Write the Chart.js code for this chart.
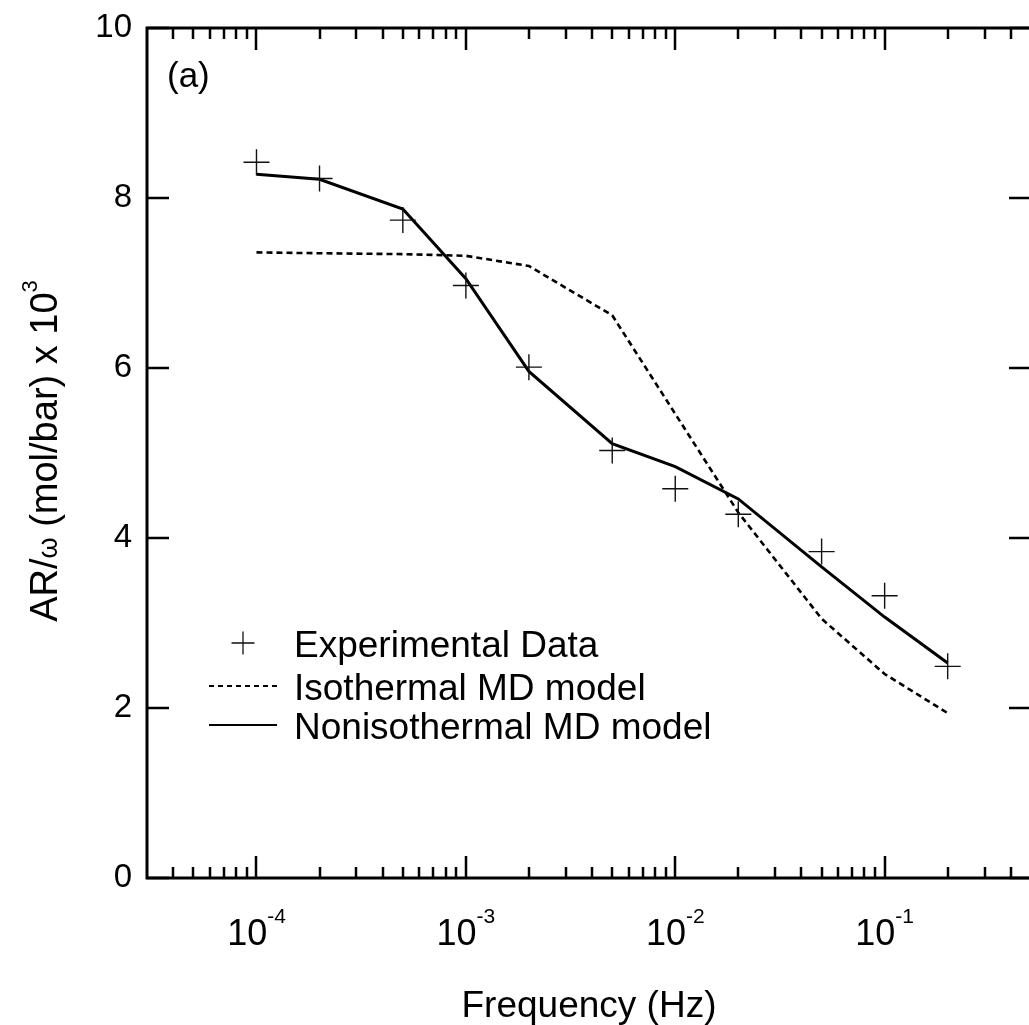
<!DOCTYPE html>
<html>
<head>
<meta charset="utf-8">
<script src="https://cdn.jsdelivr.net/npm/chart.js@4.4.1/dist/chart.umd.min.js"></script>
<style>
html,body{margin:0;padding:0;background:#fff;overflow:hidden;}
#wrap{width:1041px;height:1025px;}
</style>
</head>
<body>
<div id="wrap"><canvas id="c" width="1041" height="1025"></canvas></div>
<script>
// ---- data ----
const frequency = [1e-4, 2e-4, 5e-4, 1e-3, 2e-3, 5e-3, 1e-2, 2e-2, 5e-2, 1e-1, 2e-1];
const experimentalData = [8.42, 8.23, 7.74, 6.97, 6.01, 5.03, 4.58, 4.28, 3.84, 3.32, 2.49];
const isothermalModel = [7.36, 7.35, 7.34, 7.32, 7.20, 6.62, 5.46, 4.30, 3.05, 2.40, 1.94];
const nonisothermalModel = [8.28, 8.22, 7.87, 7.05, 5.96, 5.11, 4.84, 4.46, 3.66, 3.07, 2.53];
const seriesNames = ['Experimental Data', 'Isothermal MD model', 'Nonisothermal MD model'];
const xTickValues = [1e-4, 1e-3, 1e-2, 1e-1];
const xTickExponents = ['-4', '-3', '-2', '-1'];
const yTickValues = [0, 2, 4, 6, 8, 10];
const xRange = [3e-5, 0.5];
const yRange = [0, 10];
const xTitle = 'Frequency (Hz)';
const yTitleParts = ['AR/', 'ω', ' (mol/bar) x 10', '3'];
const panelLabel = '(a)';

const FONT = '"Liberation Sans", Arial, Helvetica, sans-serif';
const toXY = (ys) => frequency.map((f, i) => ({x: f, y: ys[i]}));

const decor = {
  id: 'decor',
  afterDraw(chart) {
    const ctx = chart.ctx;
    const a = chart.chartArea;
    const xs = chart.scales.x, ys = chart.scales.y;
    ctx.save();
    ctx.strokeStyle = '#000';
    ctx.fillStyle = '#000';
    ctx.lineCap = 'butt';
    // frame
    ctx.lineWidth = 3;
    ctx.strokeRect(a.left, a.top, a.right - a.left, a.bottom - a.top);
    // x ticks (major + minor), inward on top and bottom
    ctx.lineWidth = 2.5;
    const dMin = Math.floor(Math.log10(xRange[0])), dMax = Math.ceil(Math.log10(xRange[1]));
    for (let d = dMin; d <= dMax; d++) {
      for (let k = 1; k <= 9; k++) {
        const v = k * Math.pow(10, d);
        if (v <= xRange[0] * 1.0001 || v >= xRange[1] * 0.9999) continue;
        const px = Math.round(xs.getPixelForValue(v));
        const len = (k === 1) ? 22 : 11;
        ctx.beginPath();
        ctx.moveTo(px, a.bottom); ctx.lineTo(px, a.bottom - len);
        ctx.moveTo(px, a.top); ctx.lineTo(px, a.top + len);
        ctx.stroke();
      }
    }
    // y ticks inward on left and right
    yTickValues.forEach(v => {
      const py = Math.round(ys.getPixelForValue(v));
      ctx.beginPath();
      ctx.moveTo(a.left, py); ctx.lineTo(a.left + 22, py);
      ctx.moveTo(a.right, py); ctx.lineTo(a.right - 22, py);
      ctx.stroke();
    });
    // x tick labels 10^n
    ctx.textBaseline = 'alphabetic';
    ctx.textAlign = 'left';
    xTickValues.forEach((v, i) => {
      const px = xs.getPixelForValue(v);
      ctx.font = '36px ' + FONT;
      const wb = ctx.measureText('10').width;
      ctx.font = '21px ' + FONT;
      const we = ctx.measureText(xTickExponents[i]).width;
      const x0 = px - (wb + we) / 2;
      ctx.font = '36px ' + FONT;
      ctx.fillText('10', x0, 945);
      ctx.font = '21px ' + FONT;
      ctx.fillText(xTickExponents[i], x0 + wb, 923);
    });
    // x title
    ctx.font = '37px ' + FONT;
    ctx.textAlign = 'center';
    ctx.fillText(xTitle, (a.left + a.right) / 2, 1017);
    // y title (rotated)
    ctx.save();
    ctx.translate(57, 451);
    ctx.rotate(-Math.PI / 2);
    ctx.textAlign = 'left';
    const parts = [
      {t: yTitleParts[0], s: 38, dy: 0},
      {t: yTitleParts[1], s: 27, dy: 0},
      {t: yTitleParts[2], s: 38, dy: 0},
      {t: yTitleParts[3], s: 22, dy: -20}
    ];
    let total = 0;
    parts.forEach(p => { ctx.font = p.s + 'px ' + FONT; p.w = ctx.measureText(p.t).width; total += p.w; });
    let cx = -total / 2;
    parts.forEach(p => { ctx.font = p.s + 'px ' + FONT; ctx.fillText(p.t, cx, p.dy); cx += p.w; });
    ctx.restore();
    // panel label
    ctx.font = '35px ' + FONT;
    ctx.textAlign = 'left';
    ctx.fillText(panelLabel, 167, 87);
    // legend
    ctx.font = '37px ' + FONT;
    const lx = 294;
    const rows = [643, 686, 725];
    ctx.lineWidth = 1.3;
    ctx.strokeStyle = '#111';
    ctx.beginPath();
    ctx.moveTo(243 - 11.5, rows[0]); ctx.lineTo(243 + 11.5, rows[0]);
    ctx.moveTo(243, rows[0] - 11.5); ctx.lineTo(243, rows[0] + 11.5);
    ctx.stroke();
    ctx.strokeStyle = '#000';
    ctx.lineWidth = 1.8;
    ctx.setLineDash([5, 4]);
    ctx.beginPath(); ctx.moveTo(209, rows[1]); ctx.lineTo(277, rows[1]); ctx.stroke();
    ctx.setLineDash([]);
    ctx.lineWidth = 2.2;
    ctx.beginPath(); ctx.moveTo(209, rows[2]); ctx.lineTo(277, rows[2]); ctx.stroke();
    seriesNames.forEach((n, i) => ctx.fillText(n, lx, rows[i] + 13.5));
    ctx.restore();
  }
};

new Chart(document.getElementById('c'), {
  type: 'line',
  data: {
    datasets: [
      {
        label: seriesNames[0], data: toXY(experimentalData), showLine: false,
        pointStyle: 'cross', pointRadius: 13, pointHoverRadius: 13,
        pointBorderWidth: 1.4, borderColor: '#111', backgroundColor: '#111'
      },
      {
        label: seriesNames[1], data: toXY(isothermalModel), borderColor: '#000',
        borderWidth: 2.6, borderDash: [6, 4], pointRadius: 0, tension: 0, fill: false
      },
      {
        label: seriesNames[2], data: toXY(nonisothermalModel), borderColor: '#000',
        borderWidth: 3, pointRadius: 0, tension: 0, fill: false
      }
    ]
  },
  options: {
    responsive: false,
    animation: false,
    devicePixelRatio: 1,
    layout: {autoPadding: false, padding: {left: 0, top: 28, right: 10, bottom: 0}},
    plugins: {legend: {display: false}, tooltip: {enabled: false}},
    scales: {
      x: {
        type: 'logarithmic', min: xRange[0], max: xRange[1],
        grid: {display: false, drawTicks: false}, border: {display: false},
        ticks: {display: false},
        afterBuildTicks(scale) { scale.ticks = xTickValues.map(v => ({value: v})); },
        afterFit(scale) { scale.height = 147; scale.paddingLeft = 0; scale.paddingRight = 0; }
      },
      y: {
        type: 'linear', min: yRange[0], max: yRange[1],
        grid: {display: false, drawTicks: false}, border: {display: false},
        ticks: {stepSize: 2, color: '#000', padding: 15, font: {family: FONT, size: 33}},
        afterBuildTicks(scale) { scale.ticks = yTickValues.map(v => ({value: v})); },
        afterFit(scale) { scale.width = 147; scale.paddingTop = 0; scale.paddingBottom = 0; }
      }
    }
  },
  plugins: [decor]
});
</script>
</body>
</html>
